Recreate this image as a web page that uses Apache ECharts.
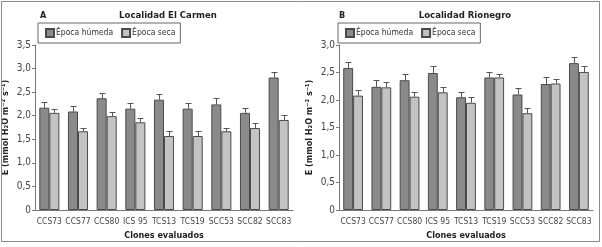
<!DOCTYPE html>
<html><head><meta charset="utf-8">
<script src="https://cdn.jsdelivr.net/npm/echarts@6/dist/echarts.min.js"></script>
<style>html,body{margin:0;padding:0;background:#fff}#c{width:602px;height:247px}</style>
</head><body><div id="c"></div>
<script>
const categories = ['CCS73','CCS77','CCS80','ICS 95','TCS13','TCS19','SCC53','SCC82','SCC83'];
const humidA    = [2.17, 2.09, 2.37, 2.15, 2.34, 2.15, 2.24, 2.06, 2.81];
const humidAErr = [0.13, 0.12, 0.12, 0.12, 0.12, 0.12, 0.13, 0.11, 0.12];
const secaA     = [2.06, 1.67, 1.99, 1.86, 1.57, 1.57, 1.67, 1.74, 1.91];
const secaAErr  = [0.09, 0.08, 0.09, 0.10, 0.11, 0.11, 0.08, 0.10, 0.10];
const humidB    = [2.58, 2.24, 2.36, 2.49, 2.05, 2.41, 2.10, 2.29, 2.67];
const humidBErr = [0.12, 0.12, 0.11, 0.12, 0.10, 0.10, 0.11, 0.12, 0.12];
const secaB     = [2.08, 2.23, 2.06, 2.14, 1.95, 2.41, 1.76, 2.30, 2.51];
const secaBErr  = [0.10, 0.09, 0.09, 0.10, 0.10, 0.07, 0.10, 0.09, 0.10];
const yTicksA = [0, 0.5, 1.0, 1.5, 2.0, 2.5, 3.0, 3.5];
const yTicksB = [0, 0.5, 1.0, 1.5, 2.0, 2.5, 3.0];

const FONT = '"DejaVu Sans Condensed", "Liberation Sans Narrow", "Liberation Sans", sans-serif';
const HUM = '#8a8a8a', SEC = '#c3c3c3', EDGE = '#4a4a4a';
const CAT_GAP = 0.30;

function errSeries(xi, vals, errs, side) {
  return {
    type: 'custom', xAxisIndex: xi, yAxisIndex: xi, silent: true, z: 5,
    data: vals.map((v, i) => [i, v, errs[i]]),
    renderItem: function (params, api) {
      const i = api.value(0), v = api.value(1), e = api.value(2);
      const p = api.coord([i, v]);
      const t = api.coord([i, v + e]);
      const bw = api.size([1, 0])[0] * (1 - CAT_GAP) / 2;
      const x = Math.round(p[0] + side * bw / 2) + 0.5;
      const ty = Math.round(t[1]) + 0.5;
      const cap = 3;
      return {
        type: 'group', children: [
          {type: 'line', shape: {x1: x, y1: p[1], x2: x, y2: ty}, style: {stroke: '#555', lineWidth: 1}},
          {type: 'line', shape: {x1: x - cap, y1: ty, x2: x + cap, y2: ty}, style: {stroke: '#555', lineWidth: 1}}
        ]
      };
    }
  };
}

function yAx(gi, max, ticks) {
  return {
    type: 'value', gridIndex: gi, min: 0, max: max, interval: 0.5,
    name: 'E (mmol H\u2082O m\u207B\u00B2 s\u207B\u00B9)', nameLocation: 'middle', nameGap: 25, nameRotate: 90,
    nameTextStyle: {fontFamily: FONT, fontWeight: 'bold', fontSize: 9, color: '#222'},
    axisLine: {show: true, lineStyle: {color: '#777'}},
    axisTick: {show: true, length: 3, lineStyle: {color: '#777'}},
    splitLine: {show: false},
    axisLabel: {fontFamily: FONT, fontSize: 10, color: '#444', margin: 4,
      formatter: v => { const t = ticks.find(k => Math.abs(k - v) < 1e-9); const val = t === undefined ? v : t; return val === 0 ? '0' : val.toFixed(1).replace('.', ','); }}
  };
}
function xAx(gi) {
  return {
    type: 'category', gridIndex: gi, data: categories,
    name: 'Clones evaluados', nameLocation: 'middle', nameGap: 21,
    nameTextStyle: {fontFamily: FONT, fontWeight: 'bold', fontSize: 9, color: '#222'},
    axisLine: {lineStyle: {color: '#777'}},
    axisTick: {length: 3, lineStyle: {color: '#777'}},
    axisLabel: {interval: 0, fontFamily: FONT, fontSize: 8.5, color: '#444', margin: 7}
  };
}
function barS(name, xi, vals, color) {
  return {
    name: name, type: 'bar', xAxisIndex: xi, yAxisIndex: xi, data: vals,
    barGap: '0%', barCategoryGap: (CAT_GAP * 100) + '%',
    itemStyle: {color: color, borderColor: EDGE, borderWidth: 1},
    emphasis: {disabled: true}
  };
}
function legend(left) {
  return {
    orient: 'horizontal', left: left, top: 23, icon: 'rect',
    itemWidth: 8, itemHeight: 8, itemGap: 8,
    padding: [5, 5, 5, 7], borderColor: '#666', borderWidth: 1,
    textStyle: {fontFamily: FONT, fontSize: 8.5, color: '#333', padding: [0, 0, 0, -3]},
    data: ['Época húmeda', 'Época seca'], selectedMode: false
  };
}

const chart = echarts.init(document.getElementById('c'), null, {renderer: 'canvas'});
chart.setOption({
  animation: false,
  backgroundColor: '#fff',
  title: [
    {text: 'A', left: 35, top: 6, textStyle: {fontFamily: FONT, fontSize: 9, fontWeight: 'bold', color: '#222'}},
    {text: 'Localidad El Carmen', left: 163, textAlign: 'center', top: 6, textStyle: {fontFamily: FONT, fontSize: 9.5, fontWeight: 'bold', color: '#222'}},
    {text: 'B', left: 334, top: 6, textStyle: {fontFamily: FONT, fontSize: 9, fontWeight: 'bold', color: '#222'}},
    {text: 'Localidad Rionegro', left: 460, textAlign: 'center', top: 6, textStyle: {fontFamily: FONT, fontSize: 9.5, fontWeight: 'bold', color: '#222'}}
  ],
  legend: [legend(38), legend(338)],
  grid: [
    {left: 35, top: 45, right: 309, bottom: 37},
    {left: 339, top: 45, right: 9, bottom: 37}
  ],
  xAxis: [xAx(0), xAx(1)],
  yAxis: [yAx(0, 3.5, yTicksA), yAx(1, 3.0, yTicksB)],
  series: [
    barS('Época húmeda', 0, humidA, HUM),
    barS('Época seca', 0, secaA, SEC),
    barS('Época húmeda', 1, humidB, HUM),
    barS('Época seca', 1, secaB, SEC),
    errSeries(0, humidA, humidAErr, -1),
    errSeries(0, secaA, secaAErr, 1),
    errSeries(1, humidB, humidBErr, -1),
    errSeries(1, secaB, secaBErr, 1)
  ],
  graphic: [
    {type: 'rect', silent: true, z: 100, shape: {x: 1.5, y: 1.5, width: 598, height: 240}, style: {fill: 'none', stroke: '#8a8a8a', lineWidth: 1}}
  ]
});
</script></body></html>
